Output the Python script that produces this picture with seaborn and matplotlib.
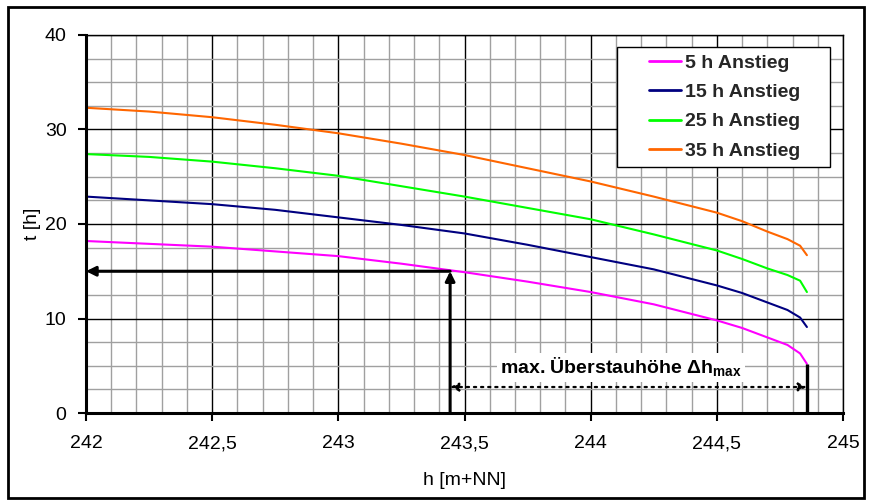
import matplotlib
matplotlib.use("Agg")
import matplotlib.pyplot as plt
import matplotlib.patches as mpatches
from matplotlib.ticker import MultipleLocator
import numpy as np
import pandas as pd
import seaborn as sns

# ---- data ----
h_values = [242.0, 242.25, 242.5, 242.75, 243.0, 243.25, 243.5, 243.75,
            244.0, 244.25, 244.5, 244.6, 244.7, 244.78, 244.83, 244.857]
t_5h = [18.2, 17.9, 17.6, 17.1, 16.6, 15.8, 14.9, 13.9,
        12.8, 11.5, 9.8, 9.0, 8.0, 7.2, 6.3, 5.2]
t_15h = [22.9, 22.5, 22.1, 21.5, 20.7, 19.9, 19.0, 17.8,
         16.5, 15.2, 13.5, 12.7, 11.7, 10.9, 10.1, 9.1]
t_25h = [27.4, 27.1, 26.6, 25.9, 25.1, 24.0, 22.9, 21.7,
         20.5, 18.9, 17.2, 16.3, 15.3, 14.6, 14.0, 12.8]
t_35h = [32.3, 31.9, 31.3, 30.5, 29.6, 28.5, 27.3, 25.9,
         24.5, 22.9, 21.2, 20.3, 19.2, 18.4, 17.7, 16.7]
series_names = ["5 h Anstieg", "15 h Anstieg", "25 h Anstieg", "35 h Anstieg"]
series_colors = ["#FF00FF", "#000080", "#00FF00", "#FF6600"]

x_ticks = [242.0, 242.5, 243.0, 243.5, 244.0, 244.5, 245.0]
x_tick_labels = ["242", "242,5", "243", "243,5", "244", "244,5", "245"]
y_ticks = [0, 10, 20, 30, 40]

h_mark = 243.443      # h where the 5 h curve reaches t = 15
t_mark = 15.0
h_max = 244.857       # end of the curves
t_end_5h = 5.2
t_dotted = 2.75
annot_text = "max. Überstauhöhe Δh$_{\\mathbf{max}}$"

# ---- long-form table ----
frames = []
for name, vals in zip(series_names, [t_5h, t_15h, t_25h, t_35h]):
    frames.append(pd.DataFrame({"h": h_values, "t": vals, "Serie": name}))
df = pd.concat(frames, ignore_index=True)

sns.set_theme(style="white")
plt.rcParams["font.family"] = ["Liberation Sans", "DejaVu Sans"]
plt.rcParams["mathtext.fontset"] = "custom"
plt.rcParams["mathtext.rm"] = "Liberation Sans"
plt.rcParams["mathtext.bf"] = "Liberation Sans:bold"

fig = plt.figure(figsize=(8.71, 5.04), dpi=100)
fig.patch.set_facecolor("white")
ax = fig.add_axes([86 / 871, 1 - 413 / 504, (843 - 86) / 871, (413 - 35) / 504])

sns.lineplot(data=df, x="h", y="t", hue="Serie", hue_order=series_names,
             palette=series_colors, linewidth=1.5, ax=ax, sort=False,
             estimator=None)

ax.set_xlim(242, 245)
ax.set_ylim(0, 40)

# grid
ax.xaxis.set_minor_locator(MultipleLocator(0.1))
ax.yaxis.set_minor_locator(MultipleLocator(2.5))
ax.set_xticks(x_ticks)
ax.set_xticklabels(x_tick_labels)
ax.set_yticks(y_ticks)
ax.grid(which="minor", color="#a0a0a0", linewidth=1.0)
ax.grid(which="major", color="black", linewidth=1.0)
ax.set_axisbelow(True)

ax.tick_params(axis="both", which="major", direction="out", length=6,
               width=1.5, color="black", labelsize=14, labelcolor="black")
ax.tick_params(axis="both", which="minor", length=0)
ax.tick_params(axis="x", pad=10)
ax.tick_params(axis="y", pad=8)
ax.tick_params(bottom=True, left=True)

for side in ["top", "right"]:
    ax.spines[side].set_visible(True)
    ax.spines[side].set_color("black")
    ax.spines[side].set_linewidth(1.0)
for side in ["left", "bottom"]:
    ax.spines[side].set_color("black")
    ax.spines[side].set_linewidth(2.2)

ax.set_xlabel("h [m+NN]", fontsize=14, color="black", labelpad=14)
ax.set_ylabel("t [h]", fontsize=14, color="black", labelpad=3)

# annotation arrows
arrow_kw = dict(arrowstyle="-|>", color="black", lw=2.2, mutation_scale=14,
                shrinkA=0, shrinkB=0)
ax.annotate("", xy=(h_mark, t_mark), xytext=(h_mark, 0), arrowprops=arrow_kw)
ax.annotate("", xy=(242.0, t_mark), xytext=(h_mark, t_mark), arrowprops=arrow_kw)
ax.plot([h_max, h_max], [0, t_end_5h], color="black", lw=2.4,
        solid_capstyle="butt")
ax.annotate("", xy=(h_max, t_dotted), xytext=(h_mark, t_dotted),
            arrowprops=dict(arrowstyle="<|-|>", color="black", lw=1.6,
                            linestyle=(0, (1, 2.2)), mutation_scale=12,
                            shrinkA=0, shrinkB=0))
ax.text(244.12, 4.8, annot_text, fontsize=14, fontweight="bold",
        ha="center", va="center", color="black",
        bbox=dict(boxstyle="square,pad=0.15", facecolor="white",
                  edgecolor="none"))

# legend: frame drawn as a separate box (wider horizontal padding)
box_x0, box_x1 = (617 - 86) / 757, (830 - 86) / 757
box_y0, box_y1 = (413 - 167) / 378, (413 - 47) / 378
ax.add_patch(mpatches.Rectangle((box_x0, box_y0), box_x1 - box_x0,
                                box_y1 - box_y0, transform=ax.transAxes,
                                facecolor="white", edgecolor="black",
                                linewidth=1.0, zorder=4.5, clip_on=False))
leg = ax.legend(loc="center",
                bbox_to_anchor=((box_x0 + box_x1) / 2 + 0.002,
                                (box_y0 + box_y1) / 2),
                frameon=False, prop={"size": 14, "weight": "bold"},
                handlelength=1.65, handletextpad=0.2, labelspacing=0.6,
                borderpad=0.2, borderaxespad=0)
leg.set_zorder(5)
for line in leg.get_lines():
    line.set_linewidth(2.0)

# outer frame
fig.add_artist(mpatches.Rectangle((8 / 871, 6 / 504), (864 - 8) / 871,
                                  (497 - 6) / 504, transform=fig.transFigure,
                                  fill=False, edgecolor="black", linewidth=2.0))

fig.savefig("out.png", dpi=100, facecolor="white")
